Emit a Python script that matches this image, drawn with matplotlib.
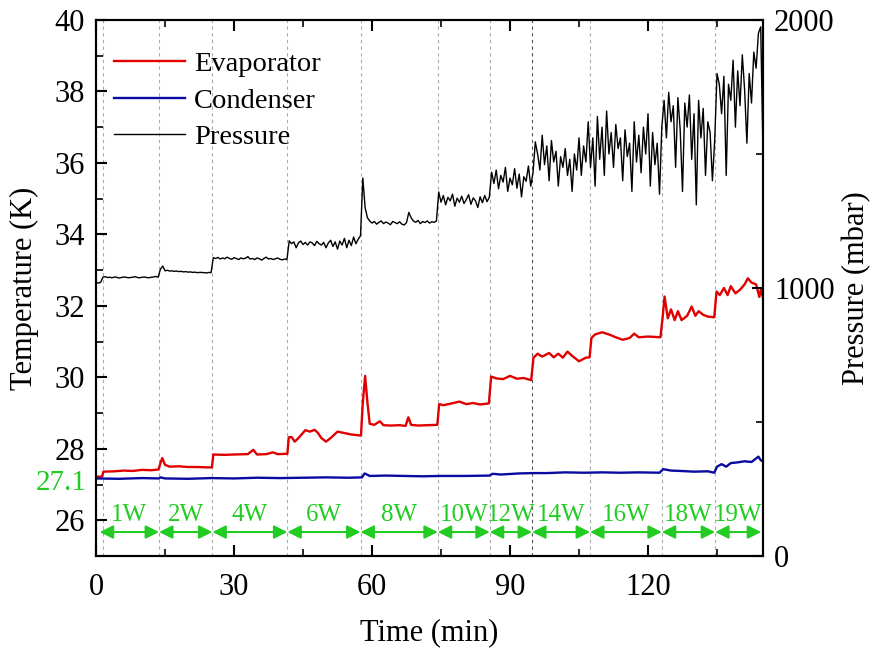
import numpy as np
import matplotlib
matplotlib.use("Agg")
import matplotlib.pyplot as plt
from matplotlib.ticker import MultipleLocator, FixedLocator
import matplotlib.transforms as mtransforms

plt.rcParams['font.family'] = ['Liberation Serif', 'DejaVu Serif']

# ---------------- data ----------------
# pressure (mbar) sampled every 0.5 min from t = 0
pressure = (
    [1020, 1018, 1021]
    + [1040]
    + [1042, 1039, 1040, 1038, 1041, 1040, 1037, 1039, 1041, 1040, 1038, 1039,
       1040, 1042, 1039, 1038, 1040, 1041, 1039, 1038, 1040, 1041, 1043, 1040]
    + [1070, 1082, 1064]
    + [1066, 1063, 1064, 1062, 1063, 1061, 1062, 1060, 1061, 1059, 1060, 1058,
       1059, 1057, 1058, 1058, 1057, 1056, 1058, 1057]
    + [1113]
    + [1110, 1114, 1108, 1112, 1109, 1115, 1110, 1107, 1113, 1110, 1106, 1112,
       1109, 1111, 1117, 1108, 1110, 1106, 1112, 1109, 1104, 1110, 1115, 1108,
       1110, 1106, 1109, 1112, 1107, 1105, 1108, 1106]
    + [1176]
    + [1165, 1172, 1150, 1168, 1175, 1162, 1170, 1160, 1172, 1168, 1158, 1174,
       1165, 1160, 1170, 1150, 1168, 1178, 1155, 1172, 1145, 1175, 1160, 1185,
       1150, 1178, 1158, 1190, 1165, 1182, 1195]
    + [1410, 1300, 1262]
    + [1250, 1242, 1248, 1238, 1245, 1250, 1240, 1246, 1242, 1236, 1248, 1244,
       1240, 1247, 1238, 1235, 1244]
    + [1282, 1262]
    + [1250, 1245, 1252, 1240, 1248, 1244, 1250, 1242, 1247, 1245, 1250]
    + [1358]
    + [1320, 1345, 1310, 1338, 1325, 1350, 1305, 1335, 1320, 1342, 1315, 1330,
       1348, 1312, 1336, 1325, 1300, 1340, 1318, 1345, 1322, 1338]
    + [1432]
    + [1390, 1440, 1370, 1420, 1395, 1450, 1360, 1410, 1385, 1445, 1372, 1425,
       1340, 1415, 1398, 1455, 1380, 1430]
    + [1545]
    + [1500, 1440, 1570, 1460, 1530, 1400, 1550, 1470, 1510, 1380, 1490, 1450,
       1520, 1420, 1480, 1360, 1500, 1440, 1560, 1420, 1530, 1470, 1620, 1450]
    + [1560, 1380, 1640, 1480, 1600, 1420, 1660, 1500, 1580, 1450, 1610, 1520,
       1560, 1400, 1590, 1490, 1540, 1360, 1620, 1470, 1570, 1430, 1600, 1500,
       1650, 1380, 1580, 1460, 1540, 1350, 1600]
    + [1700, 1560, 1730, 1620, 1680, 1450, 1710, 1590, 1360, 1690, 1600, 1720,
       1480, 1650, 1310, 1700, 1560, 1670, 1420, 1620, 1580, 1400, 1550]
    + [1800, 1760, 1650, 1790, 1420, 1760, 1700, 1850, 1600, 1810, 1680, 1870,
       1740, 1540, 1800, 1690, 1880, 1820, 1950]
    + [1974, 1503]
)
pressure_time = 0.5 * np.arange(len(pressure))

evap_time = [0, 1.3, 1.6, 4, 6, 8, 10, 12, 13.6, 14.0, 14.4, 15.0, 16, 18, 20, 22, 24,
             25.2, 25.5, 28, 30, 33, 34.2, 35, 37, 38.5, 39.5, 41.6, 41.9, 42.5, 43.2,
             44, 45.5, 46.5, 47.5, 48.2, 49, 50, 51, 52.5, 54, 55.5, 57.6, 58.0, 58.5,
             59.0, 59.5, 60.5, 61.7, 62.5, 64, 66, 67.3, 67.9, 68.5, 70, 72, 74.2, 74.6,
             75.5, 77, 79, 80.5, 82, 83.5, 85.4, 85.9, 87, 88.5, 90, 91.5, 93, 94.6,
             95.1, 96, 97, 98.5, 99.5, 100.5, 101.5, 102.5, 103.5, 105, 106.5, 107.3,
             107.7, 108.5, 110, 111.5, 113, 114.5, 116, 117, 118, 120, 121.5, 122.7,
             123.2, 123.6, 124.3, 125, 125.8, 126.5, 127.3, 128.5, 129.5, 130.3, 131,
             132, 133, 134.4, 134.9, 135.6, 136.5, 137.3, 138, 139, 140, 141, 141.7,
             142.5, 143.5, 144.2, 144.6, 145]
evap_temp = [27.22, 27.22, 27.36, 27.37, 27.39, 27.38, 27.41, 27.40, 27.42, 27.60, 27.74,
             27.55, 27.50, 27.51, 27.49, 27.49, 27.48, 27.48, 27.84, 27.83, 27.84, 27.85,
             27.97, 27.84, 27.85, 27.90, 27.85, 27.86, 28.32, 28.33, 28.20, 28.30, 28.52,
             28.48, 28.53, 28.45, 28.30, 28.20, 28.30, 28.48, 28.44, 28.40, 28.37, 29.30,
             30.04, 29.30, 28.70, 28.67, 28.77, 28.66, 28.65, 28.66, 28.64, 28.88, 28.67,
             28.65, 28.66, 28.67, 29.25, 29.22, 29.26, 29.32, 29.25, 29.28, 29.24, 29.27,
             30.02, 29.97, 29.95, 30.04, 29.96, 29.98, 29.92, 30.55, 30.66, 30.58, 30.68,
             30.56, 30.66, 30.55, 30.72, 30.60, 30.45, 30.55, 30.56, 31.10, 31.20, 31.26,
             31.20, 31.12, 31.05, 31.10, 31.22, 31.12, 31.14, 31.13, 31.12, 31.70, 32.26,
             31.65, 31.90, 31.60, 31.85, 31.60, 31.72, 31.98, 31.72, 31.85, 31.75, 31.70,
             31.68, 32.40, 32.30, 32.50, 32.30, 32.55, 32.35, 32.45, 32.60, 32.77, 32.65,
             32.60, 32.25, 32.50, 32.20]

cond_time = [0, 5, 10, 13.7, 14, 15, 20, 25, 30, 35, 40, 45, 50, 55, 57.8, 58.4, 59.5,
             63, 67, 71, 75, 80, 85.6, 86.2, 88, 92, 95, 98, 102, 106, 110, 114, 118,
             122.5, 123.3, 125, 127, 130, 133, 134.4, 135, 136, 137, 138, 139.5, 141,
             142.5, 144, 144.5, 145]
cond_temp = [27.17, 27.16, 27.18, 27.17, 27.20, 27.17, 27.16, 27.18, 27.17, 27.19, 27.18,
             27.19, 27.20, 27.19, 27.20, 27.31, 27.24, 27.25, 27.24, 27.23, 27.24, 27.24,
             27.25, 27.30, 27.28, 27.31, 27.32, 27.32, 27.34, 27.33, 27.34, 27.33, 27.34,
             27.33, 27.43, 27.39, 27.38, 27.36, 27.37, 27.33, 27.50, 27.57, 27.50, 27.60,
             27.62, 27.65, 27.63, 27.78, 27.68, 27.65]

step_lines = [1.5, 13.7, 25.3, 41.6, 57.5, 74.3, 85.6, 94.8, 107.4, 123.0, 134.6]
arrow_edges = [0.8, 13.7, 25.3, 41.6, 57.5, 74.3, 85.6, 94.8, 107.4, 123.0, 134.6, 144.6]
power_labels = ['1W', '2W', '4W', '6W', '8W', '10W', '12W', '14W', '16W', '18W', '19W']

# ---------------- figure ----------------
GREEN = '#22cc22'
fig = plt.figure(figsize=(8.73, 6.49), dpi=100)
ax = fig.add_axes([0.110, 0.1433, 0.764, 0.826])
ax2 = ax.twinx()

for x in step_lines:
    c = '#555555' if x == 94.8 else '#aaaaaa'
    ax.axvline(x, color=c, lw=0.8, ls=(0, (3, 3)), zorder=1)

l1, = ax.plot(evap_time, evap_temp, color='#e00000', lw=1.7, label='Evaporator', zorder=3)
l2, = ax.plot(cond_time, cond_temp, color='#0a0aa0', lw=1.7, label='Condenser', zorder=3)
l3, = ax2.plot(pressure_time, pressure, color='black', lw=1.0, label='Pressure', zorder=3)

# power-step arrows and labels
for a, b, lab in zip(arrow_edges[:-1], arrow_edges[1:], power_labels):
    ax.annotate('', xy=(b, 25.67), xytext=(a, 25.67),
                arrowprops=dict(arrowstyle='<|-|>', color=GREEN, lw=1.5,
                                mutation_scale=20, shrinkA=0, shrinkB=0))
    ax.text((a + b) / 2, 26.15, lab, color=GREEN, fontsize=18, ha='center', va='center')

ax.set_xlim(0, 145)
ax.set_ylim(25, 40)
ax2.set_ylim(0, 2000)

ax.xaxis.set_major_locator(MultipleLocator(30))
ax.xaxis.set_minor_locator(MultipleLocator(15))
ax.yaxis.set_major_locator(MultipleLocator(2))
ax.yaxis.set_minor_locator(MultipleLocator(1))
ax2.yaxis.set_major_locator(FixedLocator([0, 1000, 2000]))
ax2.yaxis.set_minor_locator(FixedLocator([500, 1500]))

ax.tick_params(axis='x', which='both', direction='in', top=True, labelsize=22, pad=12)
ax.tick_params(axis='y', which='both', direction='in', right=False, labelsize=22, pad=8)
ax.tick_params(which='major', length=8, width=1.5)
ax.tick_params(which='minor', length=5, width=1.2)
ax2.tick_params(axis='y', which='both', direction='in', labelsize=22, pad=8)
ax2.tick_params(which='major', length=8, width=1.5)
ax2.tick_params(which='minor', length=5, width=1.2)

for sp in list(ax.spines.values()) + list(ax2.spines.values()):
    sp.set_linewidth(1.5)

ax.set_xlabel('Time (min)', fontsize=22, labelpad=12)
ax.set_ylabel('Temperature (K)', fontsize=22, labelpad=11)
ax2.set_ylabel('Pressure (mbar)', fontsize=22, labelpad=5)

trans = mtransforms.blended_transform_factory(ax.transAxes, ax.transData)
ax.text(-0.014, 27.05, '27.1', color=GREEN, fontsize=21, ha='right', va='center',
        transform=trans)

ax2.legend(handles=[l1, l2, l3], loc='upper left', bbox_to_anchor=(0.027, 0.942),
           frameon=False, fontsize=20.5, handlelength=2.5, handletextpad=0.3,
           labelspacing=0.38, borderpad=0, borderaxespad=0)

fig.savefig('out.png', dpi=100)
